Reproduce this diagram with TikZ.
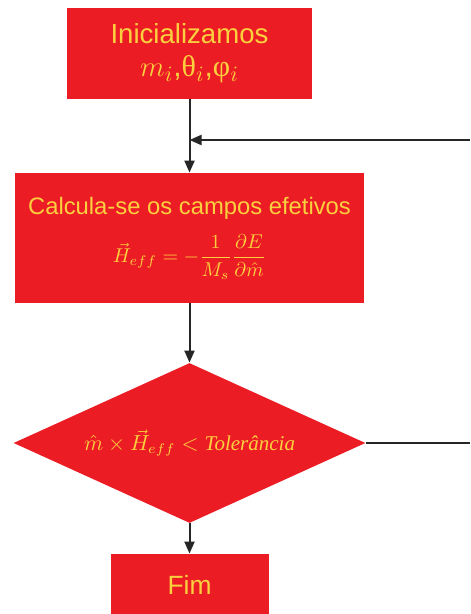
\documentclass[tikz,border=0pt]{standalone}
\usepackage{fontspec}
\setmainfont{Liberation Sans}
\newfontfamily\greekfont{Liberation Serif}
\usetikzlibrary{arrows.meta,positioning,shapes.geometric}
\definecolor{boxred}{HTML}{EC1C24}
\definecolor{boxtext}{HTML}{FBD03E}
\definecolor{linegray}{HTML}{262626}

\begin{document}
\begin{tikzpicture}[
  x=0.5pt, y=-0.5pt,
  box/.style={fill=boxred, text=boxtext, inner sep=0pt, align=center},
  decision/.style={diamond, fill=boxred, text=boxtext, inner sep=0pt, aspect=2.2},
  arrow/.style={-{Triangle[length=6pt,width=5pt]}, line width=1pt, draw=linegray}
]
\useasboundingbox (0,0) rectangle (470,614);

\node[box, minimum width=122.5pt, minimum height=45.5pt, font=\fontsize{13.8}{16.5}\selectfont] (init) at (189.5,53.5) {Inicializamos\\{\fontsize{15}{16.5}\selectfont$m_i$,{\greekfont θ}$_i$,{\greekfont φ}$_i$}};
\node[box, minimum width=174.5pt, minimum height=65pt, font=\fontsize{11.9}{14}\selectfont] (calc) at (189.5,238) {Calcula-se os campos efetivos\\[7pt]{\fontsize{10}{12}\selectfont$\displaystyle\vec{H}_{eff}=-\frac{1}{M_s}\frac{\partial E}{\partial\hat{m}}$}};
\node[decision, minimum width=176pt, minimum height=80pt] (test) at (189.5,443) {\fontsize{10.5}{13}\selectfont$\hat{m}\times\vec{H}_{eff}<\mbox{\greekfont\itshape Tolerância}$};
\node[box, minimum width=79pt, minimum height=31pt, font=\fontsize{13.2}{16}\selectfont] (fim) at (189.5,585) {Fim};

\coordinate (loopin) at (470,140);
\coordinate (loopout) at (470,443);
\coordinate (join) at (init.south |- loopin);

\draw[arrow] (init) -- (calc);
\draw[arrow] (loopin) -- (join);
\draw[arrow] (calc) -- (test);
\draw[linegray, line width=1pt] (test.east) -- (loopout);
\draw[arrow] (test) -- (fim);

\end{tikzpicture}
\end{document}
